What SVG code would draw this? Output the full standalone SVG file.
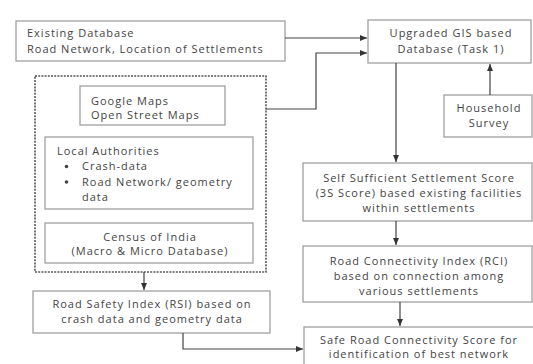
<svg xmlns="http://www.w3.org/2000/svg" width="533" height="364" viewBox="0 0 533 364">
<defs>
<marker id="ah" markerWidth="8" markerHeight="8" refX="7" refY="4" orient="auto" markerUnits="userSpaceOnUse">
<path d="M0,1 L7,4 L0,7 Z" fill="#333"/>
</marker>
<style>
.box{fill:#fff;stroke:#a0a0a0;stroke-width:1.3}
.dot{fill:none;stroke:#555;stroke-width:1.6;stroke-dasharray:2 1.2}
.t{font-family:"Open Sans","Liberation Sans",sans-serif;font-size:11px;letter-spacing:1px;fill:#444}
.c{text-anchor:middle}
.ln{fill:none;stroke:#444;stroke-width:1.2}
</style>
</defs>
<rect width="533" height="364" fill="#fff"/>

<g id="existing">
<rect class="box" x="16" y="21" width="269" height="40"/>
<text class="t" x="27" y="37">Existing Database</text>
<text class="t" x="27" y="53">Road Network, Location of Settlements</text>
</g>

<g id="gis">
<rect class="box" x="368" y="20" width="163" height="43"/>
<text class="t c" x="451" y="37">Upgraded GIS based</text>
<text class="t c" x="451" y="53">Database (Task 1)</text>
</g>

<g id="household">
<rect class="box" x="444" y="95" width="88" height="42"/>
<text class="t c" x="489" y="112">Household</text>
<text class="t c" x="489" y="127">Survey</text>
</g>

<g id="sources">
<rect class="dot" x="35" y="76" width="231" height="196"/>
</g>

<g id="google">
<rect class="box" x="80" y="86" width="145" height="39"/>
<text class="t" x="91" y="104.5">Google Maps</text>
<text class="t" x="91" y="119">Open Street Maps</text>
</g>

<g id="local">
<rect class="box" x="45" y="137" width="208" height="72"/>
<text class="t" x="57" y="155">Local Authorities</text>
<circle cx="66.5" cy="166.5" r="1.8" fill="#444"/>
<text class="t" x="82" y="170">Crash-data</text>
<circle cx="66.5" cy="182" r="1.8" fill="#444"/>
<text class="t" x="82" y="186">Road Network/ geometry</text>
<text class="t" x="82" y="201">data</text>
</g>

<g id="census">
<rect class="box" x="45" y="223" width="208" height="40"/>
<text class="t c" x="150" y="241">Census of India</text>
<text class="t c" x="150" y="254.5">(Macro &amp; Micro Database)</text>
</g>

<g id="rsi">
<rect class="box" x="33" y="291" width="237" height="42"/>
<text class="t c" x="152" y="308">Road Safety Index (RSI) based on</text>
<text class="t c" x="152" y="323">crash data and geometry data</text>
</g>

<g id="sss">
<rect class="box" x="303" y="163" width="229" height="58"/>
<text class="t c" x="419" y="182">Self Sufficient Settlement Score</text>
<text class="t c" x="419" y="197">(3S Score) based existing facilities</text>
<text class="t c" x="419" y="212">within settlements</text>
</g>

<g id="rci">
<rect class="box" x="303" y="246" width="229" height="56"/>
<text class="t c" x="419" y="265">Road Connectivity Index (RCI)</text>
<text class="t c" x="419" y="280">based on connection among</text>
<text class="t c" x="419" y="295">various settlements</text>
</g>

<g id="srcs">
<rect class="box" x="304" y="327" width="240" height="50"/>
<text class="t c" x="419" y="344">Safe Road Connectivity Score for</text>
<text class="t c" x="419" y="358">identification of best network</text>
</g>

<g id="connectors">
<path class="ln" d="M285,38 H367" marker-end="url(#ah)"/>
<path class="ln" d="M266,109 H316 V53 H367" marker-end="url(#ah)"/>
<path class="ln" d="M490,95 V64" marker-end="url(#ah)"/>
<path class="ln" d="M396,63 V162" marker-end="url(#ah)"/>
<path class="ln" d="M396,221 V245" marker-end="url(#ah)"/>
<path class="ln" d="M400,302 V326" marker-end="url(#ah)"/>
<path class="ln" d="M144,272 V290" marker-end="url(#ah)"/>
<path class="ln" d="M183,333 V349 H303" marker-end="url(#ah)"/>
</g>
</svg>
